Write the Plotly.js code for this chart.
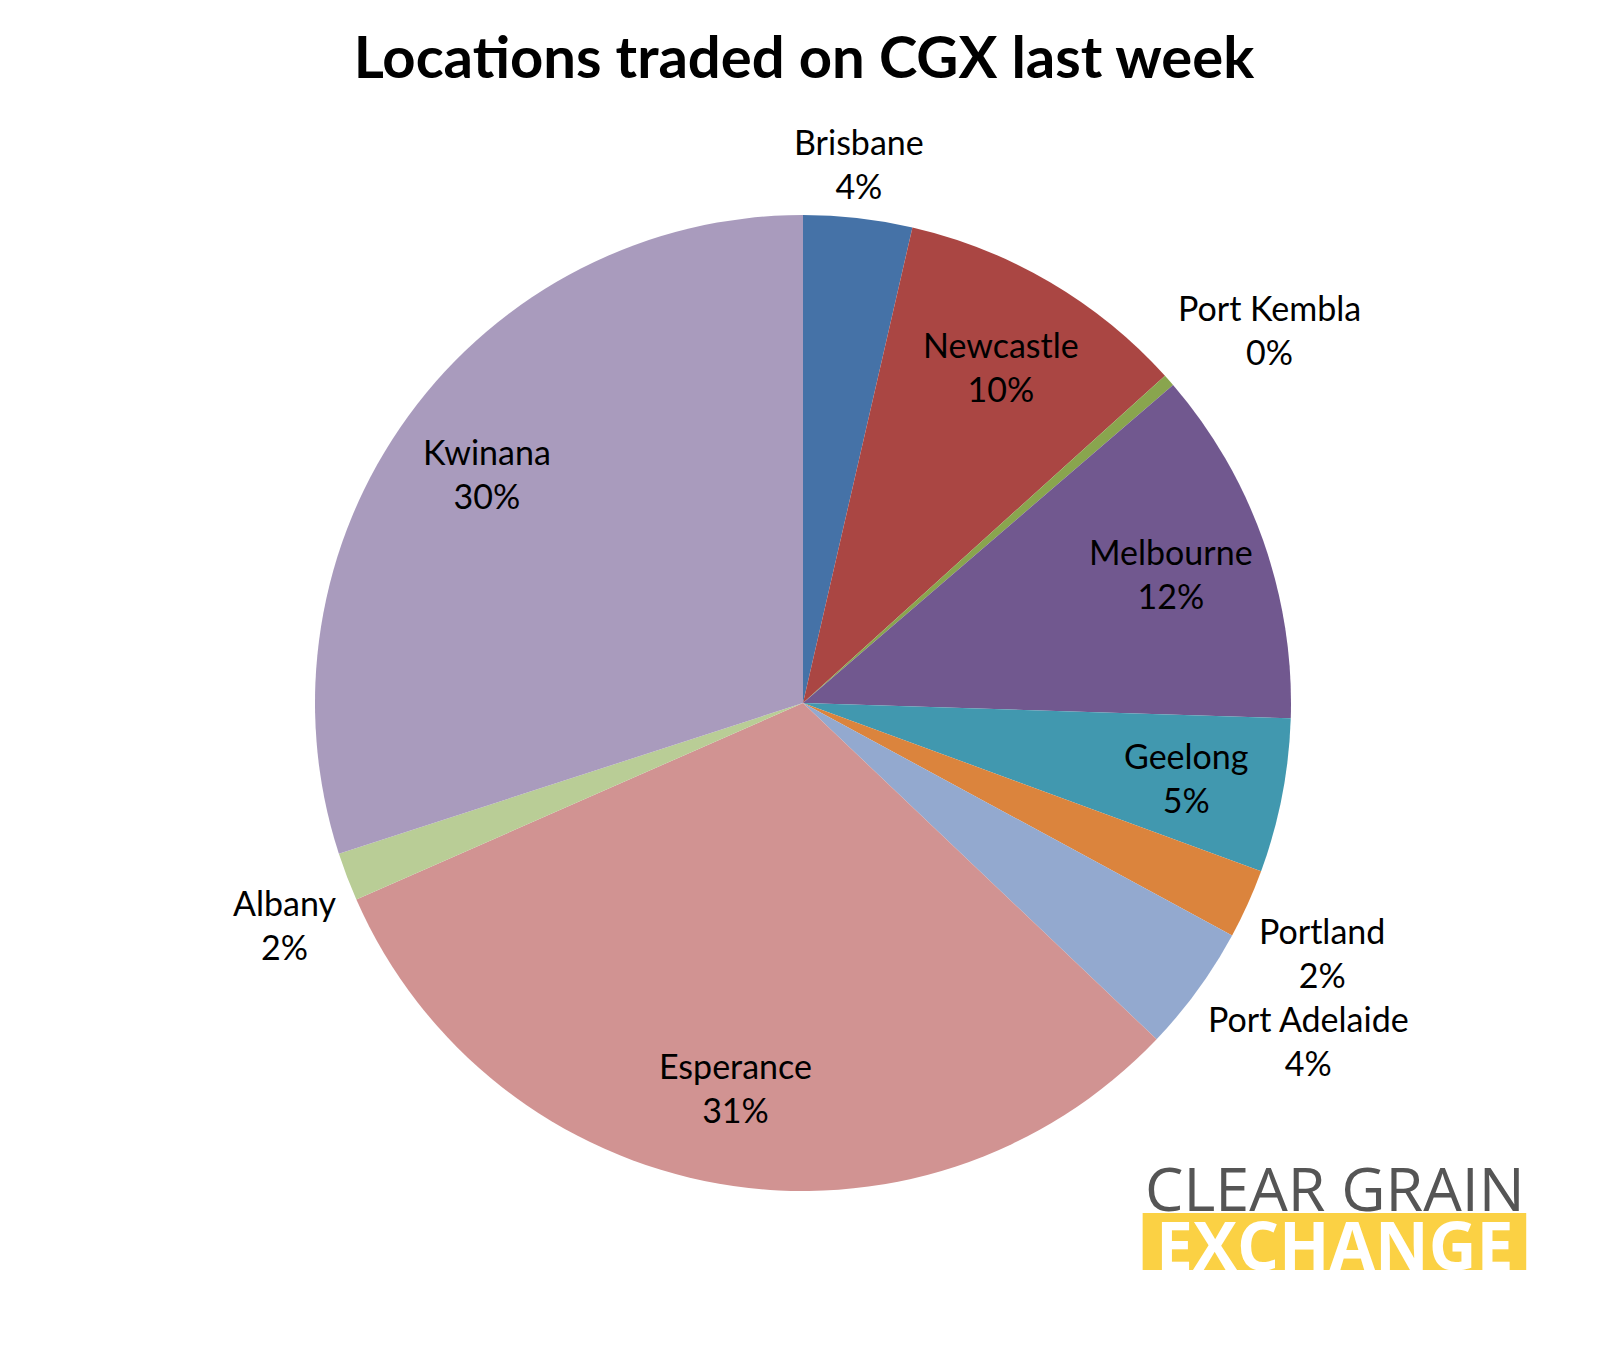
<!DOCTYPE html>
<html><head><meta charset="utf-8">
<script src="https://cdn.plot.ly/plotly-3.0.1.min.js"></script>
<style>html,body{margin:0;padding:0;background:#fff}</style>
</head><body>
<div id="chart" style="width:1608px;height:1351px"></div>
<script>
const locations = ["Brisbane","Newcastle","Port Kembla","Melbourne","Geelong","Portland","Port Adelaide","Esperance","Albany","Kwinana"];
const shares = [3.6, 9.7, 0.4, 11.8, 5.1, 2.3, 4.2, 31.3, 1.6, 30.0];
const sliceColors = ["#4572A7","#AA4643","#89A54E","#71588F","#4198AF","#DB843D","#93A9CF","#D19392","#B9CD96","#A99BBD"];
// which labels sit on the slice ("in") and which outside the pie ("out")
const labelPlacement = ["out","in","out","in","in","out","out","in","out","in"];

const font = "Lato, 'Open Sans', sans-serif";
const labelSize = 34;

const total = shares.reduce((a, b) => a + b, 0);
const pct = v => Math.round(100 * v / total) + "%";

// data labels placed along each slice's mid-angle (computed from the data)
const labelAnnotations = [];
let cum = 0;
shares.forEach((v, i) => {
  const mid = (cum + v / 2) / total * 2 * Math.PI;
  cum += v;
  const s = Math.sin(mid), c = Math.cos(mid);
  const inside = labelPlacement[i] === "in";
  const f = inside ? 0.8 : 1.02;
  labelAnnotations.push({
    xref: "paper", yref: "paper",
    x: 0.5 + 0.5 * f * s, y: 0.5 + 0.5 * f * c,
    xanchor: inside || Math.abs(s) < 0.3 ? "center" : (s > 0 ? "left" : "right"),
    yanchor: inside || Math.abs(c) < 0.3 ? "middle" : (c > 0 ? "bottom" : "top"),
    showarrow: false,
    text: locations[i] + "<br>" + pct(v),
    font: {family: font, size: labelSize, color: "#000"}
  });
});

const trace = {
  type: "pie",
  labels: locations,
  values: shares,
  sort: false,
  direction: "clockwise",
  rotation: 0,
  marker: {colors: sliceColors, line: {width: 0}},
  textinfo: "none",
  hoverinfo: "label+percent",
  automargin: false,
  showlegend: false
};
const layout = {
  width: 1608, height: 1351,
  margin: {l: 315, r: 317, t: 215, b: 160},
  paper_bgcolor: "#fff",
  title: {text: "<b>Locations traded on CGX last week</b>", x: 0.5, xanchor: "center", y: 0.957, yanchor: "middle",
          font: {family: font, size: 58, color: "#000"}},
  shapes: [
    {type: "rect", xref: "paper", yref: "paper", x0: 0.848, x1: 1.241, y0: -0.081, y1: -0.0225,
     fillcolor: "#FBD144", line: {width: 0}}
  ],
  annotations: labelAnnotations.concat([
    {xref: "paper", yref: "paper", x: 1.0446, y: 0.004, xanchor: "center", yanchor: "middle", showarrow: false,
     text: "CLEAR GRAIN", font: {family: "'Open Sans', sans-serif", size: 61, color: "#555555"}},
    {xref: "paper", yref: "paper", x: 1.0446, y: -0.054, xanchor: "center", yanchor: "middle", showarrow: false,
     text: "<b>EXCHANGE</b>", font: {family: "'Open Sans', sans-serif", size: 66, color: "#ffffff"}}
  ])
};
Plotly.newPlot("chart", [trace], layout, {displayModeBar: false});
</script>
</body></html>
